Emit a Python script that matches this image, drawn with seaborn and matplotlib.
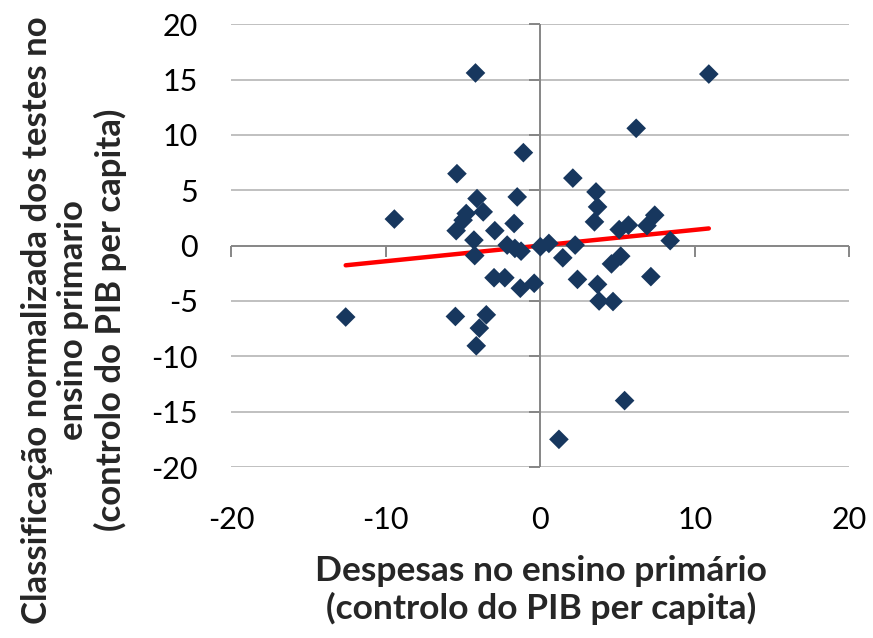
import numpy as np
import pandas as pd
import matplotlib
matplotlib.use("Agg")
import matplotlib.pyplot as plt
import seaborn as sns

# values
despesas = [-4.2, 10.9, 6.2, -1.1, -5.4, 2.1, 3.6, -1.5, -4.1, 3.7,
            -3.7, -9.45, -4.8, -5.0, 3.5, 7.4, 6.9, 5.7, 5.1, -1.7,
            -5.45, -2.95, -4.3, -2.15, -1.65, -1.25, 0.0, 0.55, 2.25, 8.4,
            -4.25, 1.45, 4.6, 5.2, 7.15, -3.0, -2.3, 2.4, -1.3, -0.4,
            3.7, 3.8, 4.7, -12.6, -5.5, -3.5, -3.95, -4.15, 5.45, 1.2]
classificacao = [15.6, 15.5, 10.6, 8.4, 6.5, 6.1, 4.85, 4.4, 4.25, 3.5,
                 3.05, 2.4, 2.9, 2.3, 2.15, 2.75, 1.8, 1.85, 1.45, 2.0,
                 1.35, 1.35, 0.5, 0.05, -0.25, -0.5, -0.1, 0.2, 0.05, 0.45,
                 -0.9, -1.1, -1.65, -0.95, -2.8, -2.9, -2.9, -3.05, -3.85, -3.4,
                 -3.5, -5.0, -5.05, -6.45, -6.4, -6.25, -7.45, -9.05, -14.0, -17.5]

x_ticks = [-20, -10, 0, 10, 20]
y_ticks = [-20, -15, -10, -5, 0, 5, 10, 15, 20]

x_title = "Despesas no ensino primário\n(controlo do PIB per capita)"
y_title = ("Classificação normalizada dos testes no\n"
           "ensino primario\n"
           "(controlo do PIB per capita)")

df = pd.DataFrame({'despesas': despesas, 'classificacao': classificacao})

sns.set_theme(style="white")
plt.rcParams['font.family'] = ['Lato', 'DejaVu Sans']
plt.rcParams['axes.unicode_minus'] = False

fig = plt.figure(figsize=(8.73, 6.38), dpi=100)
ax = fig.add_axes([0.265, 0.268, 0.708, 0.694])

grid_col = '#C0C0C0'
axis_col = '#868686'

# horizontal gridlines, excel style
for y in y_ticks:
    if y != 0:
        ax.axhline(y, color=grid_col, lw=1.4, zorder=0)

# axes crossing at zero
ax.axhline(0, color=axis_col, lw=1.4, zorder=1)
ax.axvline(0, color=axis_col, lw=1.4, zorder=1)
ax.plot(np.zeros(len(y_ticks)), y_ticks, ls='none', marker=0, ms=8, mew=1.4,
        color=axis_col, clip_on=False, zorder=1)
ax.plot(x_ticks, np.zeros(len(x_ticks)), ls='none', marker=3, ms=8, mew=1.4,
        color=axis_col, clip_on=False, zorder=1)

# linear trendline over the data range
coef = np.polyfit(df['despesas'], df['classificacao'], 1)
xs = np.array([df['despesas'].min(), df['despesas'].max()])
ax.plot(xs, np.polyval(coef, xs), color='#FF0000', lw=3.2,
        solid_capstyle='round', zorder=2)

sns.scatterplot(data=df, x='despesas', y='classificacao', marker='D', s=100,
                color='#17375E', edgecolor='none', zorder=3, ax=ax,
                legend=False)

ax.set_xlim(-20, 20)
ax.set_ylim(-20, 20)
ax.set_xticks(x_ticks)
ax.set_yticks(y_ticks)
ax.tick_params(axis='both', length=0, labelsize=22, labelcolor='black')
ax.tick_params(axis='y', pad=24)
ax.tick_params(axis='x', pad=28)
ax.set_xlabel('')
ax.set_ylabel('')
for s in ax.spines.values():
    s.set_visible(False)

fig.text(541 / 873, 1 - 590 / 638, x_title, ha='center', va='center',
         fontsize=25.5, fontweight='bold', linespacing=1.15)
fig.text(74 / 873, 1 - 320 / 638, y_title, ha='center', va='center',
         rotation=90, fontsize=25, fontweight='bold', linespacing=1.17)

fig.savefig('out.png', dpi=100)
